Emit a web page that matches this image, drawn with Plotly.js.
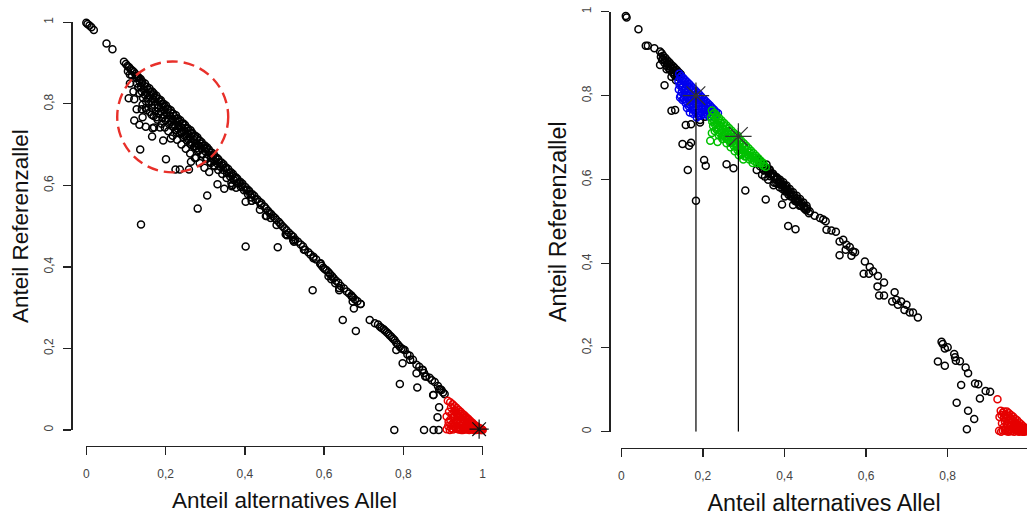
<!DOCTYPE html>
<html><head><meta charset="utf-8">
<script src="https://cdn.plot.ly/plotly-3.0.1.min.js"></script>
<style>html,body{margin:0;padding:0;background:#fff}</style>
</head><body>
<div id="chart" style="width:1027px;height:516px"></div>
<script>
// ---------- tick labels ----------
const tickVals = [0, 0.2, 0.4, 0.6, 0.8, 1];
const tickText = ['0', '0,2', '0,4', '0,6', '0,8', '1'];
const xTitle = 'Anteil alternatives Allel';
const yTitle = 'Anteil Referenzallel';

// ---------- LEFT PANEL ----------
const leftBlackX = [
0.000,0.003,0.008,0.013,0.019,0.051,0.066,0.095,0.100,0.104,0.108,0.112,0.116,0.120,0.105,0.110,0.115,0.124,0.128,0.132,
0.131,0.137,0.141,0.148,0.153,0.159,0.166,0.170,0.177,0.183,0.188,0.195,0.201,0.207,0.213,0.219,0.226,0.231,0.237,0.245,0.249,0.256,0.263,0.267,0.275,0.280,0.286,0.291,0.299,0.305,0.309,0.317,0.322,0.329,0.333,0.341,0.346,0.353,0.358,0.365,0.370,0.377,0.381,0.389,0.394,0.401,0.407,0.411,0.419,0.424,0.431,0.437,0.442,0.449,
0.128,0.138,0.145,0.152,0.160,0.168,0.174,0.181,0.189,0.196,0.203,0.210,0.218,0.225,0.233,0.240,0.247,0.255,0.262,0.270,0.277,0.284,0.292,0.300,0.308,0.315,0.323,0.330,0.338,0.346,0.355,0.363,0.372,0.380,0.390,0.398,0.408,0.417,
0.134,0.143,0.151,0.158,0.166,0.175,0.183,0.192,0.200,0.209,0.217,0.226,0.236,0.245,0.254,0.262,0.272,0.282,0.293,0.303,0.314,0.324,
0.110,0.119,0.107,0.121,0.127,0.140,0.152,0.121,0.134,0.150,0.142,0.165,0.177,0.167,0.166,0.171,0.194,0.186,0.201,0.136,0.213,0.225,0.236,0.259,0.264,0.277,0.228,0.219,0.241,0.253,0.265,0.278,
0.310,0.331,0.348,0.305,0.281,0.138,0.402,0.483,0.571,0.647,0.675,0.680,0.791,0.798,0.835,0.833,0.777,0.852,0.876,0.889,0.886,0.890,0.876,0.890,0.368,0.402,0.438,0.453,0.507,0.522,0.549,0.638,0.670,0.692,0.417,0.367,0.455,0.506,0.524,0.573,0.591,
0.453,0.458,0.462,0.466,0.471,0.476,0.480,0.486,0.490,0.495,0.500,0.505,0.511,0.517,0.522,0.527,0.534,0.541,0.547,0.552,0.560,0.566,0.573,0.580,0.590,0.594,0.598,0.602,0.606,0.611,0.615,0.620,0.624,0.630,0.636,0.642,0.650,0.657,0.663,0.669,0.673,0.678,0.684,0.692,
0.465,0.480,0.503,0.523,0.611,0.618,0.628,0.638,0.672,
0.715,0.728,0.736,0.741,0.745,0.750,0.753,0.758,0.762,0.766,0.770,0.774,0.778,0.782,0.786,0.791,0.795,0.799,0.810,0.816,0.824,0.833,0.840,0.848,0.852,0.858,0.866,0.872,0.879,0.887,0.893,0.900,0.904,
0.782,0.803,0.817,0.849,0.855,0.875,0.896
];
const leftBlackY = [
0.999,0.996,0.992,0.988,0.981,0.948,0.934,0.903,0.898,0.893,0.890,0.885,0.882,0.878,0.880,0.872,0.870,0.873,0.868,0.864,
0.866,0.861,0.855,0.850,0.842,0.838,0.830,0.826,0.820,0.812,0.809,0.800,0.796,0.788,0.784,0.776,0.772,0.764,0.760,0.752,0.748,0.740,0.735,0.729,0.722,0.718,0.710,0.706,0.698,0.693,0.688,0.680,0.676,0.668,0.664,0.656,0.652,0.644,0.640,0.632,0.628,0.620,0.616,0.608,0.604,0.596,0.590,0.586,0.578,0.574,0.566,0.560,0.556,0.548,
0.850,0.842,0.835,0.826,0.820,0.812,0.806,0.797,0.792,0.784,0.776,0.771,0.762,0.756,0.748,0.742,0.733,0.727,0.719,0.712,0.704,0.698,0.690,0.684,0.675,0.668,0.660,0.654,0.646,0.638,0.630,0.622,0.613,0.605,0.596,0.588,0.578,0.570,
0.826,0.815,0.806,0.800,0.790,0.782,0.776,0.765,0.760,0.750,0.745,0.735,0.727,0.718,0.710,0.702,0.695,0.684,0.676,0.665,0.655,0.647,
0.850,0.830,0.814,0.811,0.787,0.787,0.785,0.759,0.749,0.744,0.767,0.773,0.767,0.740,0.720,0.742,0.710,0.742,0.664,0.688,0.715,0.639,0.639,0.639,0.658,0.668,0.729,0.744,0.728,0.720,0.699,0.691,
0.633,0.603,0.592,0.575,0.543,0.504,0.450,0.448,0.343,0.270,0.298,0.243,0.113,0.164,0.104,0.139,0.000,0.000,0.000,0.000,0.031,0.056,0.086,0.100,0.601,0.560,0.540,0.525,0.478,0.466,0.442,0.343,0.327,0.309,0.562,0.598,0.525,0.478,0.462,0.421,0.409,
0.543,0.538,0.533,0.530,0.524,0.520,0.515,0.510,0.505,0.500,0.495,0.490,0.484,0.478,0.474,0.467,0.462,0.455,0.450,0.442,0.436,0.430,0.425,0.418,0.408,0.403,0.398,0.394,0.392,0.387,0.382,0.377,0.372,0.366,0.361,0.353,0.347,0.340,0.335,0.330,0.325,0.320,0.316,0.309,
0.520,0.503,0.480,0.465,0.377,0.370,0.360,0.348,0.315,
0.270,0.262,0.259,0.253,0.250,0.247,0.244,0.240,0.236,0.232,0.228,0.224,0.220,0.214,0.210,0.204,0.200,0.198,0.185,0.182,0.172,0.160,0.155,0.148,0.140,0.131,0.128,0.122,0.118,0.108,0.100,0.092,0.088,
0.196,0.196,0.172,0.147,0.131,0.086,0.098
];
// extra points filling the dense band (left)
const leftBandX = [
0.126,0.134,0.140,0.147,0.155,0.162,0.169,0.176,0.185,0.191,0.198,0.205,0.212,0.221,0.228,0.235,0.242,0.251,0.258,0.265,0.272,0.279,0.288,0.295,0.302,0.311,0.319,0.326,0.335,0.343,0.350,0.361,0.368,0.375,0.385,0.392,0.404,0.414,0.427,0.440,
0.131,0.140,0.148,0.156,0.164,0.172,0.180,0.188,0.197,0.206,0.214,0.222,0.231,0.239,0.248,0.257,0.266,0.275,0.284,0.294,0.304,0.313,0.322,0.333,0.343,0.354,0.366,0.378,
0.142,0.150,0.160,0.170,0.180,0.190,0.198,0.207,0.218,0.229,0.240,0.251,0.262,0.274,0.286,0.298
];
const leftBandY = [
0.864,0.856,0.850,0.843,0.835,0.829,0.821,0.815,0.806,0.800,0.793,0.786,0.779,0.770,0.764,0.756,0.750,0.741,0.734,0.727,0.720,0.713,0.703,0.697,0.690,0.681,0.673,0.666,0.657,0.649,0.642,0.631,0.624,0.617,0.607,0.600,0.588,0.578,0.565,0.552,
0.840,0.830,0.822,0.813,0.806,0.797,0.790,0.781,0.772,0.764,0.756,0.748,0.739,0.731,0.722,0.713,0.705,0.696,0.687,0.677,0.667,0.658,0.649,0.638,0.628,0.618,0.606,0.594,
0.798,0.790,0.780,0.770,0.761,0.751,0.742,0.733,0.722,0.712,0.700,0.690,0.678,0.667,0.655,0.643
];
// red points (left)
const leftRedX = [
0.912,0.918,0.924,0.929,0.934,0.939,0.944,0.949,0.954,0.959,0.964,0.969,0.974,0.979,0.984,0.989,0.994,0.998,
0.920,0.928,0.935,0.942,0.948,0.955,0.962,0.968,0.975,0.982,0.990,
0.925,0.933,0.940,0.946,0.952,0.960,0.967,0.974,
0.909,0.909,0.917,0.925,0.933,0.941,0.950,0.958,0.966,0.975,0.983,0.992,1.000,
0.929,0.937,0.944,0.951,0.957,0.964,0.970,0.978,0.986,0.995,0.914,0.921,0.928,
0.915,0.922,0.930,0.936,0.943,0.950,0.956,0.962,0.969,0.976,0.983,0.990,0.996,
0.918,0.926,0.934,0.942,0.949,0.956,0.963,0.971,0.979,0.987,0.993,
0.913,0.921,0.938,0.946,0.954,0.962,0.970,0.979,0.988,0.997
];
const leftRedY = [
0.072,0.068,0.063,0.058,0.054,0.049,0.045,0.040,0.036,0.031,0.027,0.022,0.018,0.013,0.010,0.006,0.003,0.001,
0.055,0.045,0.040,0.033,0.028,0.022,0.017,0.012,0.008,0.004,0.002,
0.030,0.020,0.015,0.010,0.006,0.004,0.003,0.002,
0.033,0.002,0.000,0.001,0.003,0.001,0.000,0.002,0.000,0.001,0.000,0.001,0.000,
0.033,0.026,0.020,0.015,0.011,0.008,0.005,0.004,0.002,0.000,0.020,0.012,0.008,
0.045,0.038,0.048,0.035,0.040,0.034,0.030,0.025,0.018,0.014,0.008,0.005,0.003,
0.025,0.018,0.011,0.006,0.020,0.005,0.012,0.009,0.007,0.004,0.002,
0.010,0.004,0.002,0.000,0.001,0.001,0.002,0.000,0.001,0.000
];
const leftStarX = [0.991];
const leftStarY = [0.002];
// dashed circle (data units)
const circleX = [0.078, 0.358];
const circleY = [0.632, 0.904];

// ---------- RIGHT PANEL ----------
const rightBlackX = [
0.011,0.013,0.042,0.060,0.065,0.081,
0.095,0.099,0.103,0.108,0.113,0.118,0.122,0.127,0.131,0.136,0.141,0.146,
0.100,0.106,0.112,0.119,0.125,0.131,0.123,0.134,0.111,0.095,0.106,
0.097,0.102,0.107,0.114,0.120,0.126,0.133,0.138,0.116,0.128,0.137,
0.123,0.132,0.158,0.171,0.150,0.166,0.171,0.163,0.183,0.193,0.193,0.205,0.203,0.207,0.258,0.275,0.304,
0.336,0.342,0.350,0.357,0.363,0.370,0.376,0.383,0.390,0.396,0.403,0.409,0.416,0.423,0.430,0.436,0.443,0.449,0.456,0.462,
0.340,0.348,0.356,0.364,0.372,0.381,0.389,0.397,0.405,0.413,0.421,0.430,0.438,0.446,0.454,
0.345,0.360,0.375,0.388,0.402,0.415,0.428,0.440,0.450,
0.339,0.346,0.353,0.360,0.367,0.373,0.380,0.387,0.393,0.400,0.406,0.413,0.420,0.427,0.433,0.440,0.447,0.453,0.460,
0.350,0.365,0.380,0.395,0.410,0.425,0.437,
0.332,0.352,0.373,0.385,0.401,0.421,0.354,0.394,0.409,0.427,
0.474,0.487,0.495,0.501,0.503,0.515,0.526,0.535,0.535,0.544,0.552,0.550,0.564,0.568,0.560,0.573,
0.597,0.594,0.609,0.607,0.617,0.629,0.628,0.644,0.632,0.644,0.670,0.664,0.674,0.678,0.686,0.694,0.699,0.707,0.715,0.727,
0.785,0.788,0.793,0.800,0.776,0.793,0.816,0.818,0.820,0.830,0.844,0.850,0.833,0.867,0.875,0.893,0.904,0.879,0.822,0.850,0.865,0.847
];
const rightBlackY = [
0.990,0.986,0.958,0.919,0.919,0.913,
0.905,0.901,0.895,0.890,0.884,0.879,0.874,0.870,0.866,0.861,0.856,0.851,
0.885,0.878,0.870,0.862,0.856,0.848,0.845,0.837,0.863,0.873,0.825,
0.893,0.888,0.883,0.876,0.870,0.864,0.858,0.852,0.866,0.852,0.845,
0.764,0.766,0.730,0.732,0.685,0.681,0.688,0.623,0.550,0.736,0.742,0.750,0.647,0.633,0.637,0.627,0.574,
0.648,0.642,0.634,0.628,0.622,0.615,0.609,0.602,0.596,0.589,0.583,0.576,0.570,0.563,0.556,0.550,0.543,0.537,0.531,0.524,
0.632,0.624,0.636,0.624,0.614,0.606,0.600,0.594,0.586,0.578,0.570,0.562,0.554,0.546,0.538,
0.612,0.600,0.593,0.582,0.572,0.560,0.548,0.538,0.530,
0.640,0.633,0.627,0.620,0.613,0.607,0.600,0.593,0.587,0.580,0.574,0.567,0.560,0.553,0.547,0.540,0.533,0.527,0.520,
0.622,0.608,0.592,0.578,0.564,0.550,0.538,
0.623,0.607,0.587,0.590,0.560,0.540,0.553,0.541,0.490,0.482,
0.514,0.509,0.505,0.501,0.481,0.479,0.476,0.453,0.420,0.457,0.445,0.433,0.419,0.429,0.440,0.427,
0.405,0.376,0.392,0.376,0.382,0.371,0.346,0.355,0.324,0.324,0.332,0.310,0.314,0.302,0.310,0.290,0.302,0.284,0.284,0.272,
0.214,0.209,0.198,0.201,0.167,0.157,0.185,0.177,0.169,0.168,0.153,0.139,0.111,0.115,0.113,0.097,0.095,0.079,0.069,0.050,0.030,0.006
];
const rightBlueX = [
0.142,0.147,0.152,0.157,0.162,0.167,0.172,0.177,0.182,0.187,0.192,0.197,0.202,0.207,0.212,0.217,0.222,0.227,0.232,0.237,
0.140,0.146,0.151,0.157,0.163,0.169,0.175,0.181,0.187,0.193,0.199,0.205,0.211,0.217,0.223,
0.141,0.148,0.155,0.162,0.169,0.176,0.183,0.190,0.197,0.204,
0.150,0.158,0.166,0.174,0.182,0.190,
0.144,0.150,0.155,0.161,0.166,0.172,0.178,0.184,0.190,0.195,0.201,0.207,0.213,0.219,0.225,0.231,
0.143,0.149,0.155,0.161,0.167,0.173,0.179,0.185,0.191,0.198,0.204,0.210,0.216,
0.146,0.153,0.160,0.167,0.174,0.181,0.188,0.195,
0.144,0.168,0.176,0.161,0.185
];
const rightBlueY = [
0.852,0.847,0.842,0.837,0.832,0.827,0.822,0.817,0.812,0.807,0.802,0.797,0.792,0.787,0.782,0.777,0.772,0.767,0.762,0.758,
0.835,0.829,0.823,0.818,0.812,0.806,0.800,0.795,0.789,0.783,0.777,0.771,0.766,0.760,0.754,
0.815,0.808,0.801,0.795,0.788,0.781,0.775,0.768,0.762,0.756,
0.790,0.782,0.774,0.767,0.760,0.753,
0.843,0.837,0.832,0.826,0.821,0.815,0.809,0.803,0.797,0.792,0.786,0.780,0.774,0.768,0.762,0.756,
0.825,0.819,0.812,0.806,0.800,0.794,0.787,0.781,0.775,0.768,0.762,0.756,0.750,
0.800,0.793,0.786,0.779,0.772,0.766,0.759,0.752,
0.796,0.760,0.757,0.771,0.748
];
const rightGreenX = [
0.222,0.228,0.234,0.240,0.246,0.252,0.258,0.264,0.270,0.276,0.282,0.288,0.294,0.300,0.306,0.312,0.318,0.324,0.330,0.336,0.342,0.348,
0.220,0.227,0.234,0.241,0.248,0.255,0.262,0.269,0.276,0.283,0.290,0.297,0.304,0.311,0.318,0.325,0.332,
0.225,0.233,0.241,0.250,0.258,0.267,0.276,0.285,0.294,0.303,
0.224,0.231,0.237,0.244,0.250,0.257,0.263,0.270,0.276,0.283,0.289,0.296,0.302,0.309,0.315,0.322,0.328,0.335,0.341,0.348,0.354,
0.223,0.230,0.238,0.245,0.253,0.260,0.268,0.275,0.283,0.290,0.298,0.306,0.314,0.322,
0.229,0.239,0.248,0.258,0.268,0.278,0.288,0.299,
0.222,0.218,0.236,0.246,0.262,0.295,0.323,0.285
];
const rightGreenY = [
0.765,0.759,0.753,0.747,0.741,0.735,0.729,0.723,0.717,0.711,0.705,0.699,0.693,0.687,0.681,0.675,0.669,0.663,0.657,0.651,0.645,0.640,
0.748,0.741,0.734,0.727,0.720,0.713,0.707,0.700,0.693,0.686,0.679,0.672,0.665,0.658,0.651,0.645,0.640,
0.728,0.720,0.712,0.705,0.697,0.688,0.680,0.671,0.662,0.655,
0.755,0.748,0.742,0.735,0.729,0.722,0.716,0.709,0.703,0.696,0.690,0.683,0.677,0.670,0.664,0.657,0.651,0.645,0.639,0.633,0.630,
0.738,0.731,0.723,0.716,0.708,0.701,0.693,0.686,0.678,0.671,0.663,0.656,0.648,0.640,
0.716,0.706,0.697,0.687,0.677,0.668,0.658,0.648,
0.711,0.693,0.690,0.703,0.695,0.660,0.652,0.705
];
const rightRedX = [
0.922,0.930,0.927,0.926,0.935,0.940,0.945,0.950,0.955,0.960,0.965,0.970,0.975,0.980,0.985,0.990,0.995,
0.940,0.945,0.950,0.956,0.962,0.968,0.974,0.980,0.986,0.992,
0.935,0.944,0.952,0.958,0.965,0.972,0.978,0.984,0.998,
0.946,0.938,0.953,0.960,0.967,0.973,
0.932,0.938,0.943,0.948,0.953,0.958,0.963,0.969,0.975,0.981,0.987,0.993,
0.933,0.938,0.942,0.948,0.954,0.961,0.966,0.971,0.977,0.983,0.989,0.996,
0.931,0.940,0.949,0.956,0.963,0.969,0.975,0.981,0.988,0.994
];
const rightRedY = [
0.077,0.050,0.035,0.002,0.045,0.040,0.048,0.044,0.040,0.036,0.031,0.027,0.022,0.018,0.013,0.009,0.005,
0.025,0.018,0.028,0.022,0.017,0.012,0.008,0.005,0.003,0.001,
0.003,0.001,0.005,0.002,0.004,0.001,0.002,0.000,0.001,
0.033,0.033,0.012,0.008,0.020,0.015,
0.040,0.048,0.030,0.038,0.032,0.028,0.024,0.019,0.015,0.011,0.007,0.004,
0.020,0.012,0.008,0.004,0.015,0.010,0.006,0.004,0.010,0.006,0.003,0.001,
0.000,0.004,0.000,0.001,0.000,0.002,0.000,0.001,0.000,0.002
];
const rightStarX = [0.183, 0.287, 0.997];
const rightStarY = [0.800, 0.703, 0.003];
// vertical reference lines (x position, top)
const vlineX = [0.183, 0.287];
const vlineTop = [0.820, 0.723];

// ---------- build ----------
function pts(x, y, color, xa, ya) {
  return {type:'scatter', mode:'markers', x:x, y:y, xaxis:xa, yaxis:ya,
    cliponaxis:false, hoverinfo:'skip', showlegend:false,
    marker:{symbol:'circle-open', size:7, color:color, line:{width:1.5, color:color}}};
}
function star(x, y, color, size, xa, ya) {
  return {type:'scatter', mode:'markers', x:x, y:y, xaxis:xa, yaxis:ya,
    cliponaxis:false, hoverinfo:'skip', showlegend:false,
    marker:{symbol:'asterisk-open', size:size, color:color, line:{width:1.2, color:color}}};
}
const traces = [
  pts(leftBlackX.concat(leftBandX), leftBlackY.concat(leftBandY), '#000000', 'x', 'y'),
  pts(leftRedX, leftRedY, '#e60000', 'x', 'y'),
  star(leftStarX, leftStarY, '#111111', 16, 'x', 'y'),
  pts(rightBlackX, rightBlackY, '#000000', 'x2', 'y2'),
  pts(rightBlueX, rightBlueY, '#0000ee', 'x2', 'y2'),
  pts(rightGreenX, rightGreenY, '#00c000', 'x2', 'y2'),
  pts(rightRedX, rightRedY, '#e60000', 'x2', 'y2')
];
vlineX.forEach(function(v, i){
  traces.push({type:'scatter', mode:'lines', x:[v, v], y:[0, vlineTop[i]], xaxis:'x2', yaxis:'y2',
    hoverinfo:'skip', showlegend:false, line:{color:'#000', width:1.2}});
});
traces.push(star(rightStarX, rightStarY, '#333333', 22, 'x2', 'y2'));

const fam = 'Liberation Sans, Arial, sans-serif';
const tickFont = {family:fam, size:12, color:'#444'};
function axisBase(extra) {
  return Object.assign({
    showgrid:false, zeroline:false, showline:true, linecolor:'#222', linewidth:1.3,
    ticks:'outside', ticklen:8, tickwidth:1.3, tickcolor:'#222',
    tickvals:tickVals, ticktext:tickText, tickfont:tickFont, anchor:'free'
  }, extra);
}
const layout = {
  width:1027, height:516, margin:{l:0, r:0, t:0, b:0},
  paper_bgcolor:'#fff', plot_bgcolor:'#fff', showlegend:false,
  xaxis: axisBase({domain:[0.08403, 0.47001], range:[0,1], position:0.13566, ticklabelstandoff:8,
    title:{text:xTitle, font:{family:fam, size:22.5, color:'#111'}, standoff:12}}),
  yaxis: axisBase({domain:[0.16667, 0.95678], range:[0,1], position:0.06943, tickangle:-90, ticklabelstandoff:6,
    title:{text:yTitle, font:{family:fam, size:22.5, color:'#111'}, standoff:5}}),
  xaxis2: axisBase({domain:[0.60496, 1.0], range:[0,0.9944], position:0.13178, ticklabelstandoff:8,
    title:{text:xTitle, font:{family:fam, size:23.3, color:'#111'}, standoff:14}}),
  yaxis2: axisBase({domain:[0.16337, 0.97733], range:[0,1], position:0.59328, tickangle:-90, ticklabelstandoff:6,
    title:{text:yTitle, font:{family:fam, size:23.3, color:'#111'}, standoff:5}}),
  shapes:[{type:'circle', xref:'x', yref:'y', x0:circleX[0], x1:circleX[1], y0:circleY[0], y1:circleY[1],
    line:{color:'#e8302a', width:2.4, dash:'11px,6px'}, layer:'above'}]
};
Plotly.newPlot('chart', traces, layout, {staticPlot:true, displayModeBar:false});
</script>
</body></html>
